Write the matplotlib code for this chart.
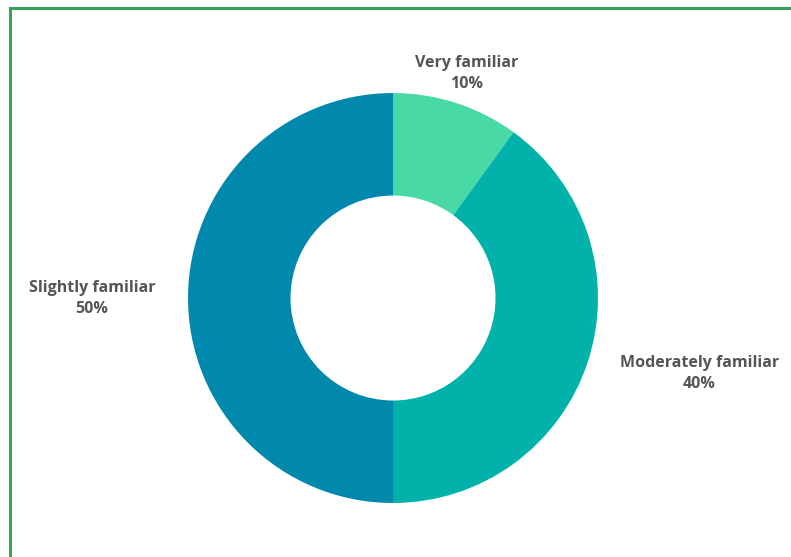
import numpy as np
import matplotlib.pyplot as plt
from matplotlib.patches import Rectangle

categories = ["Very familiar", "Moderately familiar", "Slightly familiar"]
shares = [10, 40, 50]
colors = ["#48d9a4", "#00b2aa", "#0088ad"]

# label placement: (angle in degrees, distance in radii)
label_pos = [(71.9, 1.15), (-13.8, 1.54), (180.0, 1.468)]

plt.rcParams['font.family'] = ['Open Sans', 'DejaVu Sans']

fig = plt.figure(figsize=(7.91, 5.57), dpi=100)
fig.patch.set_facecolor("white")

# green frame around the chart, open on the right and bottom edges
fig.patches.append(Rectangle((9.5 / 791, -0.05), 1.2, (557 - 7.5) / 557 + 0.05,
                             transform=fig.transFigure, fill=False,
                             edgecolor="#34a556", linewidth=2.2))

ax = fig.add_axes([0.2377, 0.0969, 0.5183, 0.7361])
ax.pie(shares, colors=colors, startangle=90, counterclock=False,
       wedgeprops=dict(width=0.5, edgecolor="none"), radius=1.0)
ax.set_xlim(-1, 1)
ax.set_ylim(-1, 1)
ax.set_aspect("equal")
ax.axis("off")

for cat, val, (ang, dist) in zip(categories, shares, label_pos):
    t = np.deg2rad(ang)
    ax.text(dist * np.cos(t), dist * np.sin(t), f"{cat}\n{val}%",
            ha="center", va="center", fontsize=11.5, fontweight="bold",
            color="#555555", linespacing=1.42, clip_on=False)

fig.savefig("out.png", dpi=100)
